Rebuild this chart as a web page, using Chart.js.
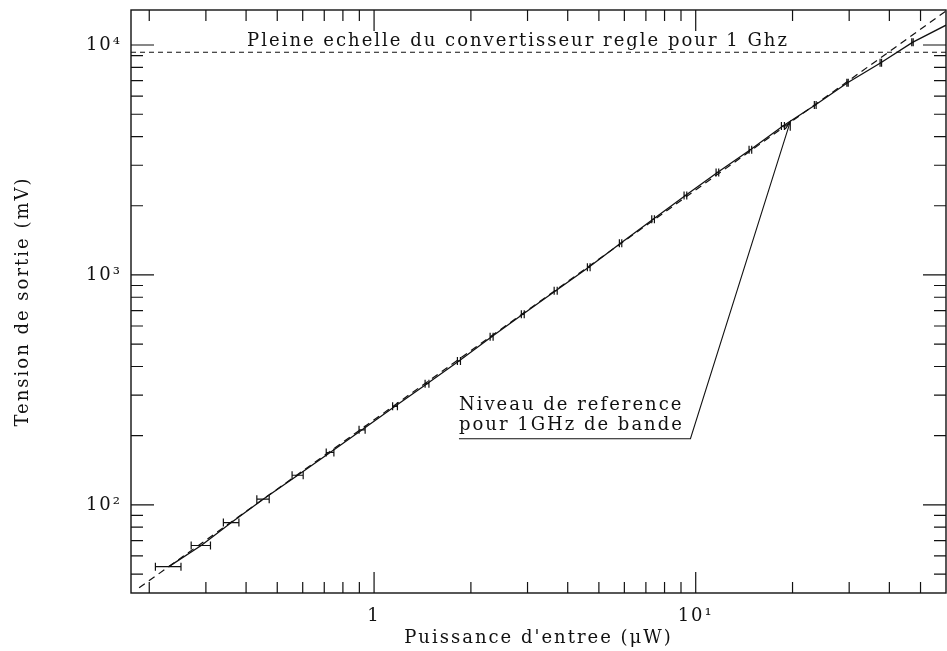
<!DOCTYPE html>
<html>
<head>
<meta charset="utf-8">
<title>Tension de sortie en fonction de la puissance d'entree</title>
<script src="https://cdn.jsdelivr.net/npm/chart.js@4.4.0/dist/chart.umd.min.js"></script>
<style>
  html, body { margin: 0; padding: 0; background: #fff; }
  #wrap { width: 947px; height: 651px; }
</style>
</head>
<body>
<div id="wrap"><canvas id="myChart" width="947" height="651"></canvas></div>
<script>
// mesures : puissance d'entree (uW), erreur sur la puissance, tension de sortie (mV)
var puissance = [0.230, 0.290, 0.360, 0.452, 0.579, 0.730, 0.918, 1.162, 1.461, 1.836,
                 2.32, 2.90, 3.67, 4.65, 5.84, 7.37, 9.29, 11.68, 14.79, 18.67,
                 23.53, 29.65, 37.63, 47.2];
var erreurPuissance = [0.021, 0.020, 0.020, 0.020, 0.023, 0.020, 0.020, 0.020, 0.020, 0.020,
                       0.025, 0.03, 0.04, 0.045, 0.05, 0.07, 0.09, 0.11, 0.14, 0.2,
                       0.15, 0.15, 0.2, 0.25];
var tension = [53.9, 66.6, 83.8, 105.9, 134.6, 169.0, 212.1, 268.4, 336.8, 422.7,
               539.1, 674.5, 854.6, 1080, 1373, 1747, 2217, 2791, 3506, 4444,
               5483, 6855, 8375, 10270];

// prolongement de la courbe jusqu'au bord droit
var courbeFinX = 60;
var courbeFinY = 12200;

// droite de reference (pente ~ 1)
var refX = [0.186, 60];
var refY = [43.6, 14050];

// pleine echelle du convertisseur (mV)
var pleineEchelle = 9300;
var pleineX = [0.1755, 60];

// annotation : soulignement puis fleche
var flecheX = [1.836, 9.63, 19.68];
var flecheY = [194, 194, 4641];

// graduations
var xMajeures = [1, 10];
var xLabels = ['1', '10\u00b9'];
var xMineures = [0.2, 0.3, 0.4, 0.5, 0.6, 0.7, 0.8, 0.9, 2, 3, 4, 5, 6, 7, 8, 9, 20, 30, 40, 50];
var yMajeures = [100, 1000, 10000];
var yLabels = ['10\u00b2', '10\u00b3', '10\u2074'];
var yMineures = [50, 60, 70, 80, 90, 200, 300, 400, 500, 600, 700, 800, 900,
                 2000, 3000, 4000, 5000, 6000, 7000, 8000, 9000];

var encre = '#111';
var police = "'DejaVu Serif', serif";

function points(xs, ys) {
  var out = [];
  for (var i = 0; i < xs.length; i++) out.push({ x: xs[i], y: ys[i] });
  return out;
}

// traits des graduations, barres d'erreur, cadre et textes
var decor = {
  id: 'decor',
  beforeDraw: function(chart) {
    chart.ctx.letterSpacing = '2px';
  },
  afterDatasetsDraw: function(chart) {
    var ctx = chart.ctx, a = chart.chartArea;
    var sx = chart.scales.x, sy = chart.scales.y;
    ctx.save();
    ctx.strokeStyle = encre;
    ctx.fillStyle = encre;

    // barres d'erreur horizontales
    ctx.lineWidth = 1.2;
    for (var i = 0; i < puissance.length; i++) {
      var y = sy.getPixelForValue(tension[i]);
      var x1 = sx.getPixelForValue(puissance[i] - erreurPuissance[i]);
      var x2 = sx.getPixelForValue(puissance[i] + erreurPuissance[i]);
      ctx.beginPath();
      ctx.moveTo(x1, y); ctx.lineTo(x2, y);
      ctx.moveTo(x1, y - 4); ctx.lineTo(x1, y + 4);
      ctx.moveTo(x2, y - 4); ctx.lineTo(x2, y + 4);
      ctx.stroke();
    }

    // cadre
    ctx.lineWidth = 1.4;
    ctx.strokeRect(a.left, a.top, a.right - a.left, a.bottom - a.top);

    // graduations vers l'interieur, sur les quatre cotes
    ctx.lineWidth = 1.2;
    ctx.beginPath();
    function tickX(v, len) {
      var px = sx.getPixelForValue(v);
      ctx.moveTo(px, a.bottom); ctx.lineTo(px, a.bottom - len);
      ctx.moveTo(px, a.top); ctx.lineTo(px, a.top + len);
    }
    function tickY(v, len) {
      var py = sy.getPixelForValue(v);
      ctx.moveTo(a.left, py); ctx.lineTo(a.left + len, py);
      ctx.moveTo(a.right, py); ctx.lineTo(a.right - len, py);
    }
    xMajeures.forEach(function(v) { tickX(v, 21); });
    xMineures.forEach(function(v) { tickX(v, 11); });
    yMajeures.forEach(function(v) { tickY(v, 23); });
    yMineures.forEach(function(v) { tickY(v, 12); });
    ctx.stroke();

    // pointe de fleche
    var tx = sx.getPixelForValue(flecheX[2]), ty = sy.getPixelForValue(flecheY[2]);
    var bx = sx.getPixelForValue(flecheX[1]), by = sy.getPixelForValue(flecheY[1]);
    var ang = Math.atan2(ty - by, tx - bx);
    ctx.beginPath();
    ctx.moveTo(tx - 9 * Math.cos(ang - 0.3), ty - 9 * Math.sin(ang - 0.3));
    ctx.lineTo(tx, ty);
    ctx.lineTo(tx - 9 * Math.cos(ang + 0.3), ty - 9 * Math.sin(ang + 0.3));
    ctx.stroke();

    // textes
    ctx.font = '18px ' + police;
    ctx.textAlign = 'left';
    ctx.textBaseline = 'alphabetic';
    ctx.fillText('Pleine echelle du convertisseur regle pour 1 Ghz',
                 sx.getPixelForValue(0.403), sy.getPixelForValue(pleineEchelle) - 6);
    var ux = sx.getPixelForValue(flecheX[0]), uy = sy.getPixelForValue(flecheY[0]);
    ctx.fillText('Niveau de reference', ux, uy - 29);
    ctx.fillText('pour 1GHz de bande', ux, uy - 9);
    ctx.restore();
  }
};

function main() {
  Chart.defaults.font.family = police;
  Chart.defaults.font.size = 18;
  Chart.defaults.color = encre;

  var ctx = document.getElementById('myChart').getContext('2d');
  var myChart = new Chart(ctx, {
    type: 'line',
    data: {
      datasets: [
        { label: 'mesures', data: points(puissance, tension).concat([{ x: courbeFinX, y: courbeFinY }]),
          borderColor: encre, borderWidth: 1.3, pointRadius: 0, tension: 0 },
        { label: 'reference', data: points(refX, refY),
          borderColor: encre, borderWidth: 1.2, borderDash: [7, 5], pointRadius: 0 },
        { label: 'pleine echelle', data: points(pleineX, [pleineEchelle, pleineEchelle]),
          borderColor: encre, borderWidth: 1.2, borderDash: [5, 4], pointRadius: 0 },
        { label: 'fleche', data: points(flecheX, flecheY),
          borderColor: encre, borderWidth: 1.1, pointRadius: 0, tension: 0 }
      ]
    },
    options: {
      responsive: false,
      animation: false,
      devicePixelRatio: 1,
      layout: { padding: { top: 10, right: 1, left: 0, bottom: 0 } },
      plugins: { legend: { display: false }, tooltip: { enabled: false } },
      scales: {
        x: {
          type: 'logarithmic', position: 'bottom',
          min: 0.1755, max: 60,
          grid: { display: false, drawTicks: false }, border: { display: false },
          afterBuildTicks: function(scale) {
            scale.ticks = xMajeures.map(function(v) { return { value: v }; });
          },
          afterFit: function(scale) {
            scale.height = 58;
            scale.paddingLeft = 0; scale.paddingRight = 0;
          },
          ticks: {
            padding: 13, maxRotation: 0, autoSkip: false,
            callback: function(value) {
              var i = xMajeures.indexOf(value);
              return i >= 0 ? xLabels[i] : '';
            }
          },
          title: { display: true, text: "Puissance d'entree (\u03bcW)", padding: { top: 0, bottom: 2 } }
        },
        y: {
          type: 'logarithmic', position: 'left',
          min: 41.4, max: 14200,
          grid: { display: false, drawTicks: false }, border: { display: false },
          afterBuildTicks: function(scale) {
            scale.ticks = yMajeures.map(function(v) { return { value: v }; });
          },
          afterFit: function(scale) {
            scale.width = 131;
            scale.paddingTop = 0; scale.paddingBottom = 0;
          },
          ticks: {
            padding: 9, autoSkip: false,
            callback: function(value) {
              var i = yMajeures.indexOf(value);
              return i >= 0 ? yLabels[i] : '';
            }
          },
          title: { display: true, text: 'Tension de sortie (mV)', padding: { top: 13, bottom: 0 } }
        }
      }
    },
    plugins: [decor]
  });
}

main();
</script>
</body>
</html>
